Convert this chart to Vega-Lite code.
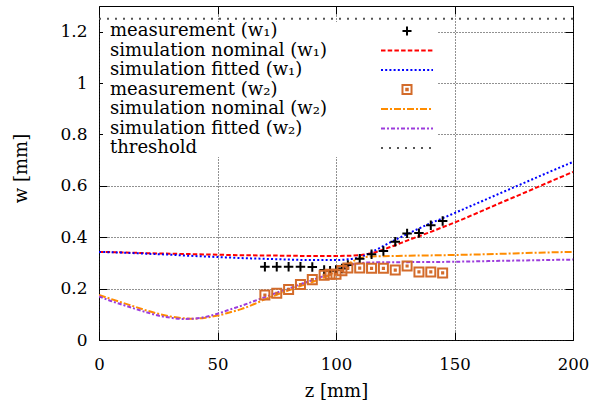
{
  "$schema": "https://vega.github.io/schema/vega-lite/v6.json",
  "width": 474,
  "height": 334,
  "autosize": {"type": "none"},
  "padding": {"left": 99, "top": 6, "right": 16, "bottom": 64},
  "background": "white",
  "config": {
    "font": "DejaVu Serif",
    "view": {"stroke": "black", "strokeWidth": 1}
  },
  "data": {
    "values": [
      {"s": "measurement (w₁)", "z": 70, "w": 0.285},
      {"s": "measurement (w₁)", "z": 75, "w": 0.285},
      {"s": "measurement (w₁)", "z": 80, "w": 0.285},
      {"s": "measurement (w₁)", "z": 85, "w": 0.285},
      {"s": "measurement (w₁)", "z": 90, "w": 0.284},
      {"s": "measurement (w₁)", "z": 95, "w": 0.272},
      {"s": "measurement (w₁)", "z": 97.5, "w": 0.270},
      {"s": "measurement (w₁)", "z": 100, "w": 0.272},
      {"s": "measurement (w₁)", "z": 102.5, "w": 0.278},
      {"s": "measurement (w₁)", "z": 105, "w": 0.292},
      {"s": "measurement (w₁)", "z": 110, "w": 0.316},
      {"s": "measurement (w₁)", "z": 115, "w": 0.334},
      {"s": "measurement (w₁)", "z": 120, "w": 0.346},
      {"s": "measurement (w₁)", "z": 125, "w": 0.382},
      {"s": "measurement (w₁)", "z": 130, "w": 0.415},
      {"s": "measurement (w₁)", "z": 135, "w": 0.416},
      {"s": "measurement (w₁)", "z": 140, "w": 0.447},
      {"s": "measurement (w₁)", "z": 145, "w": 0.463},

      {"s": "simulation nominal (w₁)", "z": 0, "w": 0.343},
      {"s": "simulation nominal (w₁)", "z": 10, "w": 0.341},
      {"s": "simulation nominal (w₁)", "z": 20, "w": 0.338},
      {"s": "simulation nominal (w₁)", "z": 30, "w": 0.336},
      {"s": "simulation nominal (w₁)", "z": 40, "w": 0.334},
      {"s": "simulation nominal (w₁)", "z": 50, "w": 0.332},
      {"s": "simulation nominal (w₁)", "z": 60, "w": 0.330},
      {"s": "simulation nominal (w₁)", "z": 70, "w": 0.329},
      {"s": "simulation nominal (w₁)", "z": 80, "w": 0.328},
      {"s": "simulation nominal (w₁)", "z": 90, "w": 0.327},
      {"s": "simulation nominal (w₁)", "z": 100, "w": 0.327},
      {"s": "simulation nominal (w₁)", "z": 105, "w": 0.328},
      {"s": "simulation nominal (w₁)", "z": 110, "w": 0.330},
      {"s": "simulation nominal (w₁)", "z": 115, "w": 0.338},
      {"s": "simulation nominal (w₁)", "z": 120, "w": 0.352},
      {"s": "simulation nominal (w₁)", "z": 125, "w": 0.369},
      {"s": "simulation nominal (w₁)", "z": 130, "w": 0.387},
      {"s": "simulation nominal (w₁)", "z": 135, "w": 0.404},
      {"s": "simulation nominal (w₁)", "z": 140, "w": 0.421},
      {"s": "simulation nominal (w₁)", "z": 145, "w": 0.439},
      {"s": "simulation nominal (w₁)", "z": 150, "w": 0.457},
      {"s": "simulation nominal (w₁)", "z": 160, "w": 0.496},
      {"s": "simulation nominal (w₁)", "z": 170, "w": 0.536},
      {"s": "simulation nominal (w₁)", "z": 180, "w": 0.575},
      {"s": "simulation nominal (w₁)", "z": 190, "w": 0.615},
      {"s": "simulation nominal (w₁)", "z": 200, "w": 0.654},

      {"s": "simulation fitted (w₁)", "z": 0, "w": 0.343},
      {"s": "simulation fitted (w₁)", "z": 10, "w": 0.340},
      {"s": "simulation fitted (w₁)", "z": 20, "w": 0.336},
      {"s": "simulation fitted (w₁)", "z": 30, "w": 0.332},
      {"s": "simulation fitted (w₁)", "z": 40, "w": 0.327},
      {"s": "simulation fitted (w₁)", "z": 50, "w": 0.323},
      {"s": "simulation fitted (w₁)", "z": 60, "w": 0.319},
      {"s": "simulation fitted (w₁)", "z": 70, "w": 0.316},
      {"s": "simulation fitted (w₁)", "z": 80, "w": 0.313},
      {"s": "simulation fitted (w₁)", "z": 90, "w": 0.311},
      {"s": "simulation fitted (w₁)", "z": 100, "w": 0.311},
      {"s": "simulation fitted (w₁)", "z": 105, "w": 0.314},
      {"s": "simulation fitted (w₁)", "z": 110, "w": 0.322},
      {"s": "simulation fitted (w₁)", "z": 115, "w": 0.342},
      {"s": "simulation fitted (w₁)", "z": 120, "w": 0.366},
      {"s": "simulation fitted (w₁)", "z": 125, "w": 0.390},
      {"s": "simulation fitted (w₁)", "z": 130, "w": 0.412},
      {"s": "simulation fitted (w₁)", "z": 135, "w": 0.434},
      {"s": "simulation fitted (w₁)", "z": 140, "w": 0.455},
      {"s": "simulation fitted (w₁)", "z": 145, "w": 0.474},
      {"s": "simulation fitted (w₁)", "z": 150, "w": 0.494},
      {"s": "simulation fitted (w₁)", "z": 160, "w": 0.534},
      {"s": "simulation fitted (w₁)", "z": 170, "w": 0.574},
      {"s": "simulation fitted (w₁)", "z": 180, "w": 0.614},
      {"s": "simulation fitted (w₁)", "z": 190, "w": 0.654},
      {"s": "simulation fitted (w₁)", "z": 200, "w": 0.693},

      {"s": "measurement (w₂)", "z": 70, "w": 0.175},
      {"s": "measurement (w₂)", "z": 75, "w": 0.182},
      {"s": "measurement (w₂)", "z": 80, "w": 0.197},
      {"s": "measurement (w₂)", "z": 85, "w": 0.216},
      {"s": "measurement (w₂)", "z": 90, "w": 0.235},
      {"s": "measurement (w₂)", "z": 95, "w": 0.252},
      {"s": "measurement (w₂)", "z": 97.5, "w": 0.256},
      {"s": "measurement (w₂)", "z": 100, "w": 0.256},
      {"s": "measurement (w₂)", "z": 102.5, "w": 0.270},
      {"s": "measurement (w₂)", "z": 105, "w": 0.280},
      {"s": "measurement (w₂)", "z": 110, "w": 0.280},
      {"s": "measurement (w₂)", "z": 115, "w": 0.279},
      {"s": "measurement (w₂)", "z": 120, "w": 0.279},
      {"s": "measurement (w₂)", "z": 125, "w": 0.272},
      {"s": "measurement (w₂)", "z": 130, "w": 0.288},
      {"s": "measurement (w₂)", "z": 135, "w": 0.265},
      {"s": "measurement (w₂)", "z": 140, "w": 0.265},
      {"s": "measurement (w₂)", "z": 145, "w": 0.261},

      {"s": "simulation nominal (w₂)", "z": 0, "w": 0.175},
      {"s": "simulation nominal (w₂)", "z": 5, "w": 0.160},
      {"s": "simulation nominal (w₂)", "z": 10, "w": 0.145},
      {"s": "simulation nominal (w₂)", "z": 15, "w": 0.130},
      {"s": "simulation nominal (w₂)", "z": 20, "w": 0.115},
      {"s": "simulation nominal (w₂)", "z": 25, "w": 0.102},
      {"s": "simulation nominal (w₂)", "z": 30, "w": 0.092},
      {"s": "simulation nominal (w₂)", "z": 35, "w": 0.085},
      {"s": "simulation nominal (w₂)", "z": 40, "w": 0.083},
      {"s": "simulation nominal (w₂)", "z": 45, "w": 0.087},
      {"s": "simulation nominal (w₂)", "z": 50, "w": 0.095},
      {"s": "simulation nominal (w₂)", "z": 55, "w": 0.107},
      {"s": "simulation nominal (w₂)", "z": 60, "w": 0.120},
      {"s": "simulation nominal (w₂)", "z": 65, "w": 0.138},
      {"s": "simulation nominal (w₂)", "z": 70, "w": 0.158},
      {"s": "simulation nominal (w₂)", "z": 75, "w": 0.176},
      {"s": "simulation nominal (w₂)", "z": 80, "w": 0.193},
      {"s": "simulation nominal (w₂)", "z": 85, "w": 0.210},
      {"s": "simulation nominal (w₂)", "z": 90, "w": 0.226},
      {"s": "simulation nominal (w₂)", "z": 95, "w": 0.244},
      {"s": "simulation nominal (w₂)", "z": 100, "w": 0.267},
      {"s": "simulation nominal (w₂)", "z": 105, "w": 0.296},
      {"s": "simulation nominal (w₂)", "z": 110, "w": 0.318},
      {"s": "simulation nominal (w₂)", "z": 115, "w": 0.325},
      {"s": "simulation nominal (w₂)", "z": 130, "w": 0.328},
      {"s": "simulation nominal (w₂)", "z": 145, "w": 0.330},
      {"s": "simulation nominal (w₂)", "z": 160, "w": 0.333},
      {"s": "simulation nominal (w₂)", "z": 175, "w": 0.337},
      {"s": "simulation nominal (w₂)", "z": 190, "w": 0.341},
      {"s": "simulation nominal (w₂)", "z": 200, "w": 0.343},

      {"s": "simulation fitted (w₂)", "z": 0, "w": 0.170},
      {"s": "simulation fitted (w₂)", "z": 5, "w": 0.152},
      {"s": "simulation fitted (w₂)", "z": 10, "w": 0.137},
      {"s": "simulation fitted (w₂)", "z": 15, "w": 0.122},
      {"s": "simulation fitted (w₂)", "z": 20, "w": 0.108},
      {"s": "simulation fitted (w₂)", "z": 25, "w": 0.095},
      {"s": "simulation fitted (w₂)", "z": 30, "w": 0.087},
      {"s": "simulation fitted (w₂)", "z": 35, "w": 0.082},
      {"s": "simulation fitted (w₂)", "z": 40, "w": 0.083},
      {"s": "simulation fitted (w₂)", "z": 45, "w": 0.090},
      {"s": "simulation fitted (w₂)", "z": 50, "w": 0.102},
      {"s": "simulation fitted (w₂)", "z": 55, "w": 0.118},
      {"s": "simulation fitted (w₂)", "z": 60, "w": 0.133},
      {"s": "simulation fitted (w₂)", "z": 65, "w": 0.150},
      {"s": "simulation fitted (w₂)", "z": 70, "w": 0.167},
      {"s": "simulation fitted (w₂)", "z": 75, "w": 0.184},
      {"s": "simulation fitted (w₂)", "z": 80, "w": 0.200},
      {"s": "simulation fitted (w₂)", "z": 85, "w": 0.217},
      {"s": "simulation fitted (w₂)", "z": 90, "w": 0.233},
      {"s": "simulation fitted (w₂)", "z": 95, "w": 0.250},
      {"s": "simulation fitted (w₂)", "z": 100, "w": 0.268},
      {"s": "simulation fitted (w₂)", "z": 105, "w": 0.289},
      {"s": "simulation fitted (w₂)", "z": 110, "w": 0.299},
      {"s": "simulation fitted (w₂)", "z": 115, "w": 0.302},
      {"s": "simulation fitted (w₂)", "z": 145, "w": 0.304},
      {"s": "simulation fitted (w₂)", "z": 175, "w": 0.309},
      {"s": "simulation fitted (w₂)", "z": 200, "w": 0.313},

      {"s": "threshold", "z": 0, "w": 1.25},
      {"s": "threshold", "z": 200, "w": 1.25}
    ]
  },
  "resolve": {"axis": {"x": "independent", "y": "independent"}},
  "layer": [
    {
      "transform": [{"filter": "indexof(datum.s, 'measurement') < 0"}],
      "mark": {"type": "line", "strokeWidth": 2, "interpolate": "monotone", "clip": true},
      "encoding": {
        "x": {
          "field": "z", "type": "quantitative",
          "scale": {"domain": [0, 200], "nice": false},
          "axis": {
            "orient": "bottom", "values": [0, 50, 100, 150, 200],
            "grid": true, "gridDash": [1, 2], "gridColor": "#222222", "gridWidth": 1, "gridOpacity": 1,
            "domain": false, "ticks": true, "tickSize": -8, "tickColor": "black", "tickWidth": 1,
            "labelFont": "DejaVu Serif", "labelFontSize": 16.5, "labelColor": "black",
            "labelPadding": 24, "labelFlush": false,
            "title": "z [mm]", "titleFont": "DejaVu Serif", "titleFontSize": 18,
            "titleFontWeight": "normal", "titleColor": "black",
            "titleBaseline": "middle", "titleY": 51
          }
        },
        "y": {
          "field": "w", "type": "quantitative",
          "scale": {"domain": [0, 1.3], "nice": false},
          "axis": {
            "orient": "left", "values": [0, 0.2, 0.4, 0.6, 0.8, 1, 1.2], "format": "~g",
            "grid": true, "gridDash": [1, 2], "gridColor": "#222222", "gridWidth": 1, "gridOpacity": 1,
            "domain": false, "ticks": true, "tickSize": -8, "tickColor": "black", "tickWidth": 1,
            "labelFont": "DejaVu Serif", "labelFontSize": 17, "labelColor": "black",
            "labelPadding": 20,
            "title": "w [mm]", "titleFont": "DejaVu Serif", "titleFontSize": 18,
            "titleFontWeight": "normal", "titleColor": "black",
            "titleBaseline": "middle", "titleAlign": "center", "titleAngle": -90,
            "titleX": -78, "titleY": 162
          }
        },
        "color": {
          "field": "s", "type": "nominal",
          "scale": {
            "domain": ["measurement (w₁)", "simulation nominal (w₁)", "simulation fitted (w₁)", "measurement (w₂)", "simulation nominal (w₂)", "simulation fitted (w₂)", "threshold"],
            "range": ["#000000", "#ff0000", "#0000ff", "#d36b2a", "#ff8c00", "#9c3cdc", "#555555"]
          },
          "legend": {
            "orient": "none", "legendX": 4, "legendY": 16, "title": null,
            "fillColor": "white", "padding": 0, "rowPadding": 1.5,
            "symbolType": "stroke", "symbolSize": 256, "symbolStrokeWidth": 2,
            "labelOffset": -11,
            "labelFont": "DejaVu Serif", "labelFontSize": 18, "labelColor": "black", "labelLimit": 0,
            "encode": {
              "symbols": {
                "update": {
                  "shape": {"signal": "datum.index == 0 ? 'M36.31,0H37.44M36.875,-0.56V0.56' : datum.index == 3 ? 'M36.31,-0.56H37.44V0.56H36.31Z M36.78,-0.1H36.97V0.1H36.78Z' : 'M33.625,0H40.125'"},
                  "strokeDash": {"signal": "[[], [4.5, 2.2], [2, 2.2], [], [7, 2, 2, 2], [4, 2, 2, 2], [2, 6]][datum.index]"},
                  "fill": {"value": "transparent"},
                  "opacity": {"value": 1}
                }
              }
            }
          }
        },
        "strokeDash": {
          "field": "s", "type": "nominal",
          "scale": {
            "domain": ["simulation nominal (w₁)", "simulation fitted (w₁)", "simulation nominal (w₂)", "simulation fitted (w₂)", "threshold"],
            "range": [[4.5, 2.2], [2, 2.2], [7, 2, 2, 2], [4, 2, 2, 2], [2, 6]]
          },
          "legend": null
        }
      }
    },
    {
      "transform": [{"filter": "indexof(datum.s, 'measurement') >= 0"}],
      "mark": {"type": "point", "filled": false, "strokeWidth": 2, "size": 90, "opacity": 1},
      "encoding": {
        "x": {
          "field": "z", "type": "quantitative",
          "axis": {
            "orient": "top", "values": [0, 50, 100, 150, 200], "grid": false, "labels": false,
            "domain": false, "ticks": true, "tickSize": -8, "tickColor": "black", "tickWidth": 1, "title": null
          }
        },
        "y": {
          "field": "w", "type": "quantitative",
          "axis": {
            "orient": "right", "values": [0, 0.2, 0.4, 0.6, 0.8, 1, 1.2], "grid": false, "labels": false,
            "domain": false, "ticks": true, "tickSize": -8, "tickColor": "black", "tickWidth": 1, "title": null
          }
        },
        "color": {"field": "s", "type": "nominal"},
        "shape": {
          "field": "s", "type": "nominal",
          "scale": {
            "domain": ["measurement (w₁)", "measurement (w₂)"],
            "range": ["M-1,0H1M0,-1V1", "M-0.95,-0.95H0.95V0.95H-0.95Z M-0.12,-0.12H0.12V0.12H-0.12Z"]
          },
          "legend": null
        }
      }
    }
  ]
}
